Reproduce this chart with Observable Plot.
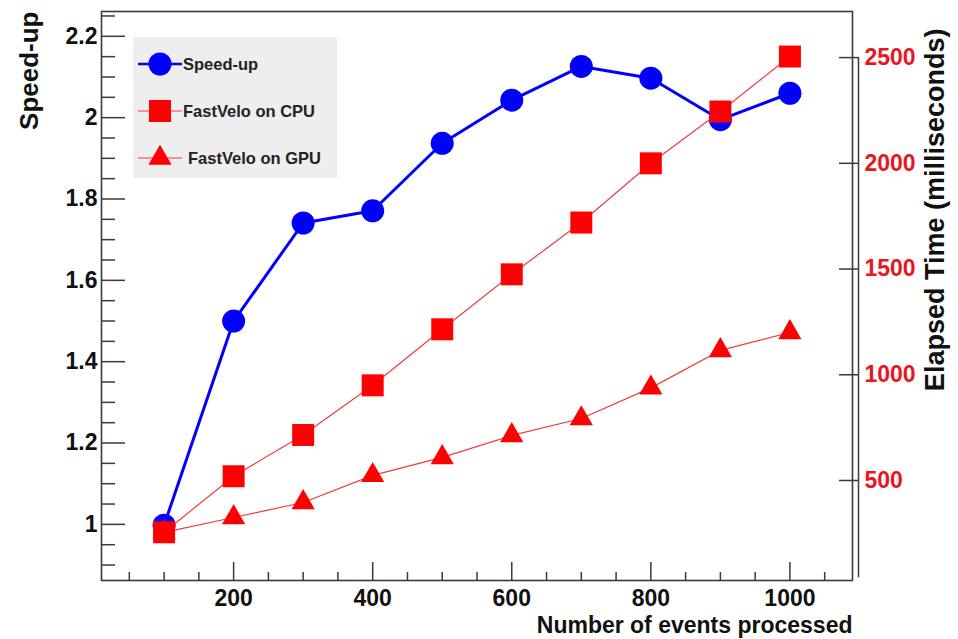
<!DOCTYPE html>
<html><head><meta charset="utf-8">
<script src="https://cdn.jsdelivr.net/npm/d3@7"></script>
<script src="https://cdn.jsdelivr.net/npm/@observablehq/plot@0.6"></script>
<style>
body{margin:0;background:#fff;}
#wrap{position:relative;width:958px;height:639px;overflow:hidden;}
#wrap svg{position:absolute;left:0;top:0;max-width:none;}
</style></head><body><div id="wrap"></div>
<script>
// ---- data ----
const events = [100, 200, 300, 400, 500, 600, 700, 800, 900, 1000];
const speedup = [0.998, 1.50, 1.741, 1.771, 1.937, 2.043, 2.126, 2.097, 1.995, 2.060];
const cpuMs = [255, 520, 715, 950, 1215, 1475, 1720, 2000, 2245, 2505];
const gpuMs = [255, 325, 396, 524, 609, 713, 793, 938, 1115, 1200];
const seriesNames = ["Speed-up", "FastVelo on CPU", "FastVelo on GPU"];
const xMajorTicks = [200, 400, 600, 800, 1000];
const xMinorTicks = [50, 100, 150, 250, 300, 350, 450, 500, 550, 650, 700, 750, 850, 900, 950, 1050];
const speedMajorTicks = [1, 1.2, 1.4, 1.6, 1.8, 2, 2.2];
const speedMinorTicks = [0.9, 0.95, 1.05, 1.1, 1.15, 1.25, 1.3, 1.35, 1.45, 1.5, 1.55, 1.65, 1.7, 1.75, 1.85, 1.9, 1.95, 2.05, 2.1, 2.15, 2.25];
const msTicks = [500, 1000, 1500, 2000, 2500];
const xDomain = [10, 1090];
const speedDomain = [0.862, 2.261];
const msDomain = [27, 2718];
const msAxisSpan = [40, 2500];
const titleX = "Number of events processed";
const titleLeft = "Speed-up";
const titleRight = "Elapsed Time (milliseconds)";

// ---- styles ----
const BLUE = "#0000ff", RED = "#ff0000", RED_TXT = "#e8161e", AX = "#3a3a3a", LRED = "#f03c3c";
const FONT = "'Liberation Sans', Arial, Helvetica, sans-serif";
const speedRows = events.map((e, i) => ({events: e, value: speedup[i]}));
const cpuRows = events.map((e, i) => ({events: e, value: cpuMs[i]}));
const gpuRows = events.map((e, i) => ({events: e, value: gpuMs[i]}));

const common = {
  width: 958, height: 639,
  marginTop: 11, marginRight: 106, marginBottom: 59, marginLeft: 101,
  x: {domain: xDomain, axis: null},
  style: {fontFamily: FONT, fontSize: "23px", fontWeight: "bold", background: "transparent", overflow: "visible"}
};

const p1 = Plot.plot({
  ...common,
  y: {domain: speedDomain, axis: null},
  marks: [
    Plot.axisX(xMinorTicks, {tickSize: -8, tickFormat: () => "", stroke: AX, strokeWidth: 1.5, label: null}),
    Plot.axisX(xMajorTicks, {tickSize: -18, tickFormat: () => "", stroke: AX, strokeWidth: 1.5, label: null}),
    Plot.axisX(xMajorTicks, {tickSize: 0, tickPadding: 9, tickFormat: String, fill: "#111", label: null}),
    Plot.axisY(speedMinorTicks, {tickSize: -14, tickFormat: () => "", stroke: AX, strokeWidth: 1.5, label: null}),
    Plot.axisY(speedMajorTicks, {tickSize: -24, tickFormat: () => "", stroke: AX, strokeWidth: 1.5, label: null}),
    Plot.axisY(speedMajorTicks, {tickSize: 0, tickPadding: 4, tickFormat: String, fill: "#111", label: null}),
    Plot.frame({stroke: AX, strokeWidth: 1.6}),
    Plot.line(speedRows, {x: "events", y: "value", stroke: BLUE, strokeWidth: 3}),
    Plot.dot(speedRows, {x: "events", y: "value", r: 11.5, fill: BLUE}),
    Plot.text([titleLeft], {text: d => d, frameAnchor: "top-left", rotate: -90, textAnchor: "end", dx: -82, dy: 0, fontSize: 26, fontWeight: "bold", fill: "#111"})
  ]
});

const p2 = Plot.plot({
  ...common,
  y: {domain: msDomain, axis: null},
  marks: [
    Plot.ruleX([xDomain[1]], {y1: msAxisSpan[0], y2: msAxisSpan[1], dx: 6, stroke: AX, strokeWidth: 1.5}),
    Plot.axisY(msTicks, {anchor: "right", tickSize: -20, dx: 6, tickFormat: () => "", stroke: AX, strokeWidth: 1.5, label: null}),
    Plot.axisY(msTicks, {anchor: "right", tickSize: 0, tickPadding: 6, dx: 6, tickFormat: String, fill: RED_TXT, label: null}),
    Plot.line(cpuRows, {x: "events", y: "value", stroke: LRED, strokeWidth: 1.2}),
    Plot.line(gpuRows, {x: "events", y: "value", stroke: LRED, strokeWidth: 1.2}),
    Plot.dot(cpuRows, {x: "events", y: "value", symbol: "square", r: 12.4, fill: RED}),
    Plot.dot(gpuRows, {x: "events", y: "value", symbol: "triangle", r: 8.6, fill: RED}),
    Plot.text([titleRight], {text: d => d, frameAnchor: "top-right", rotate: -90, textAnchor: "end", dx: 72, dy: 17, fontSize: 27, fontWeight: "bold", fill: "#111"}),
    Plot.text([titleX], {text: d => d, frameAnchor: "bottom-right", textAnchor: "end", dx: 0, dy: 52, fontSize: 23, fontWeight: "bold", fill: "#111"})
  ]
});

const wrap = document.getElementById("wrap");
wrap.appendChild(p1);
wrap.appendChild(p2);

// ---- legend ----
const svg = d3.select(p2);
const lg = svg.append("g").attr("font-family", FONT).attr("font-weight", "bold").attr("text-anchor", "start");
lg.append("rect").attr("x", 133).attr("y", 37).attr("width", 204).attr("height", 141).attr("fill", "#eeeeee");
const items = [
  {name: seriesNames[0], color: BLUE, line: BLUE, sw: 2.5, sym: d3.symbolCircle, size: Math.PI * 11.5 * 11.5},
  {name: seriesNames[1], color: RED, line: LRED, sw: 1.2, sym: d3.symbolSquare, size: Math.PI * 12.4 * 12.4},
  {name: seriesNames[2], color: RED, line: LRED, sw: 1.2, sym: d3.symbolTriangle, size: Math.PI * 8.6 * 8.6}
];
items.forEach((it, i) => {
  const cy = 64 + i * 47;
  lg.append("line").attr("x1", 138).attr("x2", 182).attr("y1", cy).attr("y2", cy)
    .attr("stroke", it.line).attr("stroke-width", it.sw);
  lg.append("path").attr("d", d3.symbol(it.sym, it.size)()).attr("transform", `translate(160,${cy})`).attr("fill", it.color);
  lg.append("text").attr("x", i === 2 ? 188 : 183).attr("y", cy).attr("dy", "0.35em")
    .attr("font-size", 16.5).attr("fill", "#222").text(it.name);
});
</script></body></html>
